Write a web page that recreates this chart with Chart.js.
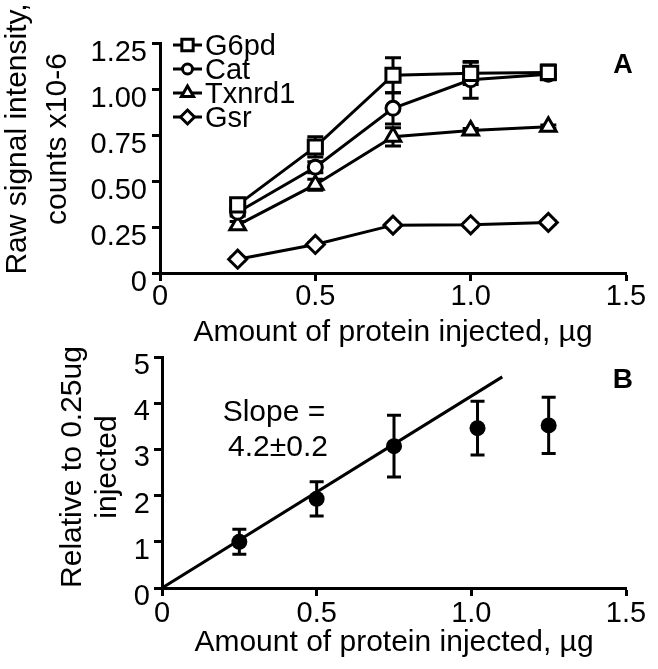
<!DOCTYPE html>
<html>
<head>
<meta charset="utf-8">
<script src="https://cdn.jsdelivr.net/npm/chart.js"></script>
<style>
  html, body { margin: 0; padding: 0; background: #fff; }
  #wrap { position: relative; width: 658px; height: 669px; }
  #wrap canvas { position: absolute; left: 0; }
</style>
</head>
<body>
<div id="wrap">
  <canvas id="chartA" width="658" height="349" style="top:0"></canvas>
  <canvas id="chartB" width="658" height="340" style="top:329px"></canvas>
</div>
<script>
// Panel A - raw signal vs amount injected
const doseA = [0.25, 0.5, 0.75, 1.0, 1.25];
const g6pd = [0.37, 0.685, 1.075, 1.085, 1.09];
const g6pdErr = [0.02, 0.055, 0.095, 0.06, 0.04];
const cat = [0.33, 0.575, 0.895, 1.05, 1.08];
const catErr = [0.02, 0.03, 0.085, 0.1, 0.02];
const txnrd1 = [0.26, 0.48, 0.74, 0.775, 0.795];
const txnrd1Err = [0.02, 0.03, 0.05, 0.01, 0.01];
const gsr = [0.075, 0.155, 0.26, 0.262, 0.275];
const gsrErr = [0.01, 0.01, 0.01, 0.01, 0.01];
const yTicksA = [0, 0.25, 0.5, 0.75, 1.0, 1.25];

// Panel B - relative to 0.25ug
const doseB = [0.25, 0.5, 0.75, 1.02, 1.25];
const relative = [1.0, 1.93, 3.07, 3.46, 3.52];
const relativeErr = [0.27, 0.37, 0.67, 0.58, 0.61];
const fitX = [0, 1.1];
const fitY = [0, 4.57];

const xTicks = [0, 0.5, 1.0, 1.5];

const FONT = "'Liberation Sans', Arial, sans-serif";

const toPoints = (xs, ys) => xs.map((x, i) => ({ x: x, y: ys[i] }));

// error bars, drawn under the markers
const errorBars = {
    id: 'errorBars',
    beforeDatasetsDraw(chart, args, opts) {
        const { ctx } = chart;
        const xs = chart.scales.x, ys = chart.scales.y;
        const cap = opts.cap || 7;
        ctx.save();
        ctx.strokeStyle = '#000';
        ctx.lineWidth = 3;
        chart.data.datasets.forEach(ds => {
            if (!ds.errors) return;
            ds.data.forEach((p, j) => {
                const e = ds.errors[j];
                const px = xs.getPixelForValue(p.x);
                const top = ys.getPixelForValue(p.y + e);
                const bot = ys.getPixelForValue(p.y - e);
                ctx.beginPath();
                ctx.moveTo(px, top); ctx.lineTo(px, bot);
                ctx.moveTo(px - cap, top); ctx.lineTo(px + cap, top);
                ctx.moveTo(px - cap, bot); ctx.lineTo(px + cap, bot);
                ctx.stroke();
            });
        });
        ctx.restore();
    }
};

// free text: panel letters, slope note (data coords) and the rotated y titles (pixels)
const textLabels = {
    id: 'textLabels',
    afterDraw(chart, args, opts) {
        const { ctx } = chart;
        const xs = chart.scales.x, ys = chart.scales.y;
        ctx.save();
        ctx.fillStyle = '#000';
        ctx.textAlign = 'center';
        ctx.textBaseline = 'middle';
        (opts.notes || []).forEach(n => {
            ctx.font = n.font;
            ctx.fillText(n.text, xs.getPixelForValue(n.x), ys.getPixelForValue(n.y));
        });
        const t = opts.yTitle;
        if (t) {
            ctx.font = t.font;
            t.lines.forEach((line, i) => {
                ctx.save();
                ctx.translate(t.x + i * t.spacing, t.y);
                ctx.rotate(-Math.PI / 2);
                ctx.fillText(line, 0, 0);
                ctx.restore();
            });
        }
        ctx.restore();
    }
};

// compact legend (rows closer than the font size)
const tightLegend = {
    id: 'tightLegend',
    afterDraw(chart, args, opts) {
        if (!opts.show) return;
        const { ctx } = chart;
        const drawPoint = Chart.helpers && Chart.helpers.drawPoint;
        ctx.save();
        chart.data.datasets.forEach((ds, i) => {
            const ty = opts.top + i * opts.step;
            const my = ty - 2;
            ctx.strokeStyle = '#000';
            ctx.lineWidth = 3;
            ctx.beginPath();
            ctx.moveTo(opts.left, my);
            ctx.lineTo(opts.left + 29, my);
            ctx.stroke();
            ctx.fillStyle = '#fff';
            if (drawPoint) {
                drawPoint(ctx, { pointStyle: ds.pointStyle, rotation: 0, radius: ds.pointRadius - 2, borderWidth: 3 }, opts.left + 14.5, my);
            }
            ctx.fillStyle = '#000';
            ctx.font = '29px ' + FONT;
            ctx.textAlign = 'left';
            ctx.textBaseline = 'middle';
            ctx.fillText(ds.label, opts.left + 32, ty);
        });
        ctx.restore();
    }
};

const axisStyle = (min, max, ticks, fmt, extra) => Object.assign({
    type: 'linear',
    min: min,
    max: max,
    border: { display: true, color: '#000', width: 3 },
    grid: { drawOnChartArea: false, drawTicks: true, tickLength: 8, tickWidth: 3, tickColor: '#000' },
    afterBuildTicks: axis => { axis.ticks = ticks.map(v => ({ value: v })); },
    ticks: {
        color: '#000',
        font: { family: FONT, size: 29, lineHeight: 1.1 },
        autoSkip: false,
        maxRotation: 0,
        callback: fmt
    }
}, extra);

const fmtX = v => v === 0 ? '0' : v.toFixed(1);

const lineSet = (label, ys, errs, style, r) => ({
    label: label,
    data: toPoints(doseA, ys),
    errors: errs,
    borderColor: '#000',
    borderWidth: 3,
    backgroundColor: '#fff',
    pointStyle: style,
    pointRadius: r,
    pointBorderWidth: 3,
    pointBackgroundColor: '#fff',
    pointBorderColor: '#000',
    tension: 0,
    showLine: true
});

const chartA = new Chart(document.getElementById('chartA'), {
    type: 'scatter',
    data: {
        datasets: [
            lineSet('G6pd', g6pd, g6pdErr, 'rect', 10),
            lineSet('Cat', cat, catErr, 'circle', 7),
            lineSet('Txnrd1', txnrd1, txnrd1Err, 'triangle', 9),
            lineSet('Gsr', gsr, gsrErr, 'rectRot', 9)
        ]
    },
    options: {
        responsive: false,
        animation: false,
        layout: { padding: { left: 0, right: 32, top: 43, bottom: 1 } },
        plugins: {
            legend: { display: false },
            tooltip: { enabled: false },
            errorBars: { cap: 8 },
            tightLegend: { show: true, left: 173, top: 47, step: 24 },
            textLabels: {
                notes: [{ text: 'A', x: 1.49, y: 1.13, font: 'bold 27px ' + FONT }],
                yTitle: { lines: ['Raw signal intensity,', 'counts x10-6'], x: 18, y: 139, spacing: 40, font: '30px ' + FONT }
            }
        },
        scales: {
            x: axisStyle(0, 1.5, xTicks, fmtX, {
                afterFit: s => { s.height = 75; },
                title: { display: true, text: 'Amount of protein injected, µg', color: '#000', font: { family: FONT, size: 30, lineHeight: 1 }, padding: 0 }
            }),
            y: axisStyle(0, 1.25, yTicksA, v => v === 0 ? '0' : v.toFixed(2), {
                afterFit: s => { s.width = 160; }
            })
        }
    },
    plugins: [errorBars, tightLegend, textLabels]
});
chartA.options.scales.x.ticks.padding = 0;
chartA.options.scales.y.ticks.padding = 5;
chartA.options.scales.y.ticks.labelOffset = 10;
chartA.update();

const chartB = new Chart(document.getElementById('chartB'), {
    type: 'scatter',
    data: {
        datasets: [
            {
                label: 'Relative',
                data: toPoints(doseB, relative),
                errors: relativeErr,
                pointStyle: 'circle',
                pointRadius: 8,
                pointBorderWidth: 0,
                pointBackgroundColor: '#000',
                showLine: false
            },
            {
                label: 'Fit',
                data: toPoints(fitX, fitY),
                borderColor: '#000',
                borderWidth: 3,
                pointRadius: 0,
                showLine: true
            }
        ]
    },
    options: {
        responsive: false,
        animation: false,
        layout: { padding: { left: 0, right: 32, top: 28, bottom: 11 } },
        plugins: {
            legend: { display: false },
            tooltip: { enabled: false },
            errorBars: { cap: 7 },
            tightLegend: { show: false },
            textLabels: {
                notes: [
                    { text: 'B', x: 1.49, y: 4.5, font: 'bold 28px ' + FONT },
                    { text: 'Slope =', x: 0.362, y: 3.8, font: '30px ' + FONT },
                    { text: '4.2±0.2', x: 0.375, y: 3.04, font: '30px ' + FONT }
                ],
                yTitle: { lines: ['Relative to 0.25ug', 'injected'], x: 73, y: 138, spacing: 35, font: '30px ' + FONT }
            }
        },
        scales: {
            x: axisStyle(0, 1.5, xTicks, fmtX, {
                afterFit: s => { s.height = 70; },
                title: { display: true, text: 'Amount of protein injected, µg', color: '#000', font: { family: FONT, size: 30, lineHeight: 1 }, padding: 0 }
            }),
            y: axisStyle(0, 5, [0, 1, 2, 3, 4, 5], v => String(v), {
                afterFit: s => { s.width = 162; }
            })
        }
    },
    plugins: [errorBars, tightLegend, textLabels]
});
chartB.options.scales.x.ticks.padding = 2;
chartB.options.scales.y.ticks.padding = 4;
chartB.options.scales.y.ticks.labelOffset = 9;
chartB.update();
</script>
</body>
</html>
